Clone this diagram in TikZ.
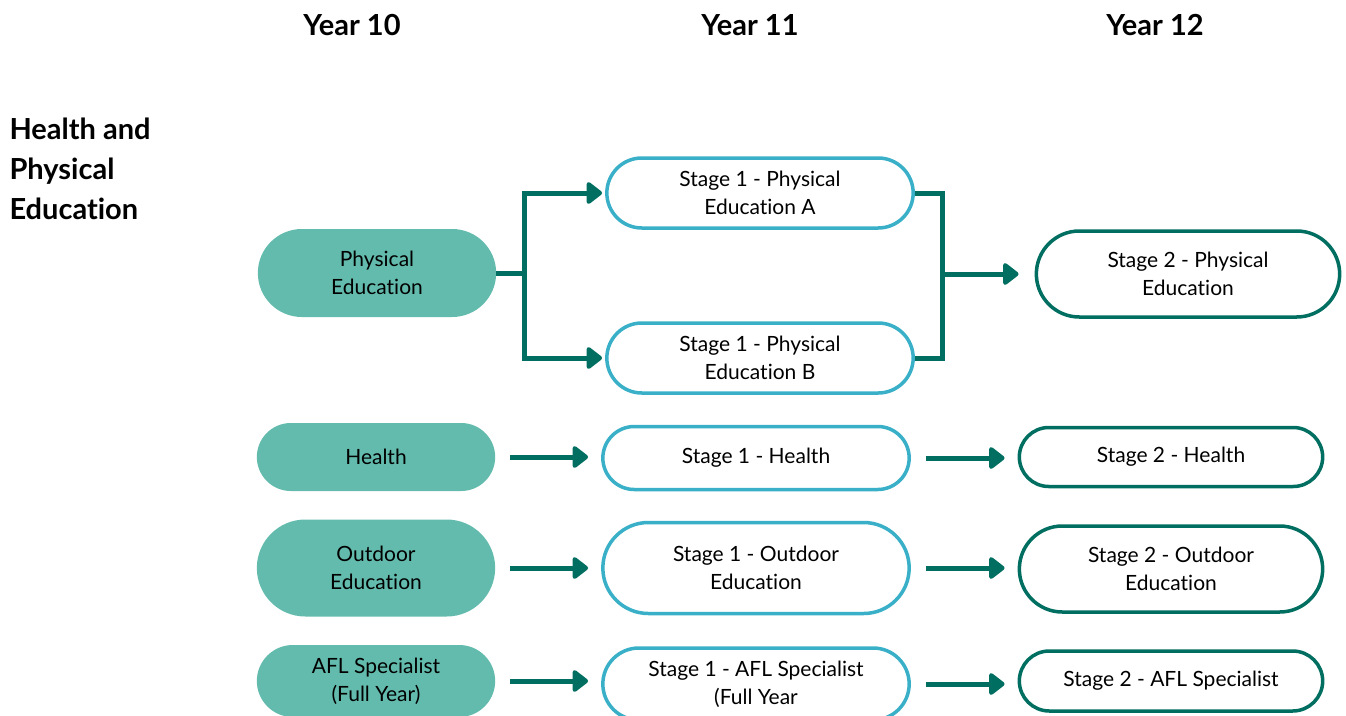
\documentclass[tikz,border=0pt]{standalone}
\usepackage{fontspec}
\setmainfont{Lato}[Ligatures=NoCommon]
\usetikzlibrary{positioning,arrows.meta,shapes.misc}
\definecolor{tealfill}{RGB}{99,187,173}
\definecolor{cyanline}{RGB}{58,176,200}
\definecolor{darkteal}{RGB}{0,110,96}
\tikzset{yearlabel/.style={font=\fontsize{29}{34}\selectfont\bfseries}}
\tikzset{yr10/.style={rounded rectangle,fill=tealfill,minimum width=245pt,align=center,font=\fontsize{21}{28}\selectfont}}
\tikzset{yr11/.style={rounded rectangle,draw=cyanline,line width=3.5pt,fill=white,minimum width=313pt,align=center,font=\fontsize{21}{28}\selectfont}}
\tikzset{yr12/.style={rounded rectangle,draw=darkteal,line width=3.5pt,fill=white,minimum width=310pt,align=center,font=\fontsize{21}{28}\selectfont}}
\tikzset{link/.style={draw=darkteal,line width=5pt}}
\tikzset{arr/.style={link,-{Triangle[length=17pt,width=25pt,round]}}}

\begin{document}
\begin{tikzpicture}[x=1pt,y=-1pt]
  \useasboundingbox (0,0) rectangle (1346,715);

  % column heads
  \node[yearlabel] (y10) at (352,25) {Year 10};
  \node[yearlabel] (y11) at (750,25) {Year 11};
  \node[yearlabel] (y12) at (1155,25) {Year 12};
  \node[yearlabel,anchor=north west,align=left,font=\fontsize{29}{40}\selectfont\bfseries] (hpe) at (6,114) {Health and\\Physical\\Education};

  % Year 10
  \node[yr10,minimum height=88pt] (pe) at (377,273) {Physical\\Education};
  \node[yr10,minimum height=68pt] (hl) at (376,457) {Health};
  \node[yr10,minimum height=97pt] (od) at (376,568) {Outdoor\\Education};
  \node[yr10,minimum height=72pt] (afl) at (376,681) {AFL Specialist\\(Full Year)};

  % Year 11
  \node[yr11,minimum height=70pt] (peA) at (760,193) {Stage 1 - Physical\\Education A};
  \node[yr11,minimum height=70pt] (peB) at (760,358) {Stage 1 - Physical\\Education B};
  \node[yr11,minimum height=63pt] (hlA) at (756,458) {Stage 1 - Health};
  \node[yr11,minimum height=91pt] (odA) at (756,568) {Stage 1 - Outdoor\\Education};
  \node[yr11,minimum height=72pt] (aflA) at (756,684) {Stage 1 - AFL Specialist\\(Full Year};

  % Year 12
  \node[yr12,minimum height=86pt] (peC) at (1188,274) {Stage 2 - Physical\\Education};
  \node[yr12,minimum height=59pt] (hlB) at (1171,457) {Stage 2 - Health};
  \node[yr12,minimum height=86pt] (odB) at (1171,569) {Stage 2 - Outdoor\\Education};
  \node[yr12,minimum height=60pt] (aflB) at (1171,681) {Stage 2 - AFL Specialist};

  % branch into the two Stage 1 PE subjects
  \coordinate (split) at (524,273);
  \draw[link] (pe.east) -- (split);
  \draw[arr,shorten >=3pt] (split) |- (peA.west);
  \draw[arr,shorten >=3pt] (split) |- (peB.west);

  % merge into Stage 2 PE
  \coordinate (merge) at (942,274);
  \draw[link] (peA.east) -| (merge) |- (peB.east);
  \draw[arr,shorten >=16pt] (merge) -- (merge -| peC.west);

  % straight pathways
  \foreach \a/\b in {hl/hlA,od/odA,afl/aflA,hlA/hlB,odA/odB,aflA/aflB}
    \draw[arr,shorten <=15pt,shorten >=13pt] (\a.east) -- (\a.east -| \b.west);
\end{tikzpicture}
\end{document}
